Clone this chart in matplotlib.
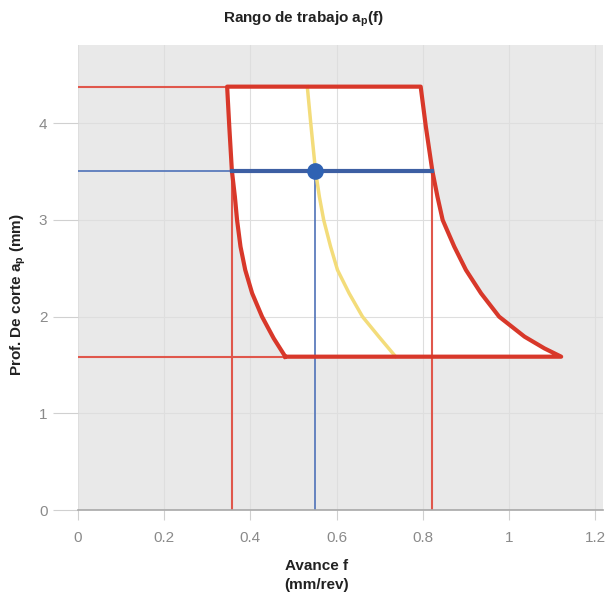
import matplotlib
matplotlib.use("Agg")
import matplotlib.pyplot as plt

# ---- data ----
ap_max = 4.38
ap_min = 1.586
ap_sel = 3.51
f_sel = 0.551
f_lo_sel = 0.357
f_hi_sel = 0.822

left_ap = [4.379, 3.965, 3.51, 3.24, 3.0, 2.724, 2.483, 2.242, 2.0, 1.776, 1.586]
left_f = [0.346, 0.351, 0.357, 0.364, 0.369, 0.377, 0.388, 0.404, 0.427, 0.454, 0.481]
right_ap = [4.379, 3.965, 3.51, 3.24, 3.0, 2.724, 2.483, 2.242, 2.0, 1.793, 1.672, 1.586]
right_f = [0.795, 0.807, 0.822, 0.834, 0.846, 0.873, 0.900, 0.935, 0.977, 1.036, 1.082, 1.121]
yel_ap = [4.379, 4.0, 3.51, 3.24, 3.0, 2.724, 2.483, 2.242, 2.0, 1.793, 1.586]
yel_f = [0.532, 0.540, 0.551, 0.560, 0.570, 0.586, 0.602, 0.629, 0.660, 0.698, 0.737]

x_ticks = [0, 0.2, 0.4, 0.6, 0.8, 1.0, 1.2]
x_tick_labels = ["0", "0.2", "0.4", "0.6", "0.8", "1", "1.2"]
y_ticks = [0, 1, 2, 3, 4]
y_tick_labels = ["0", "1", "2", "3", "4"]

plt.rcParams['font.family'] = ['Liberation Sans', 'DejaVu Sans']
plt.rcParams['mathtext.fontset'] = 'custom'
plt.rcParams['mathtext.rm'] = 'Liberation Sans'
plt.rcParams['mathtext.bf'] = 'Liberation Sans:bold'

RED = '#d8382a'
RED_THIN = '#e0574c'
BLUE = '#3d5fa3'
BLUE_THIN = '#4f72b8'
DOT = '#2f62b3'
YEL = '#f3dc7a'

fig = plt.figure(figsize=(6.07, 6.03), dpi=100)
ax = fig.add_axes([0.1285, 0.1542, 0.8649, 0.7712])
ax.set_facecolor('#e9e9e9')
ax.set_xlim(0, 1.218)
ax.set_ylim(0, 4.81)

# polygon: bottom-left, up the left curve, across the top, down the right curve, back
pf = left_f[::-1] + right_f
pa = left_ap[::-1] + right_ap
pf = pf + [pf[0]]
pa = pa + [pa[0]]
ax.fill(pf, pa, color='white', zorder=0.3, lw=0)

ax.set_axisbelow(True)
ax.grid(True, color='#dedede', lw=0.8)

# thin guide lines
ax.plot([0, left_f[0]], [ap_max, ap_max], color=RED_THIN, lw=1.5, zorder=2)
ax.plot([0, right_f[-1]], [ap_min, ap_min], color=RED_THIN, lw=1.5, zorder=2)
ax.plot([f_lo_sel, f_lo_sel], [0, ap_sel], color=RED_THIN, lw=1.5, zorder=2)
ax.plot([f_hi_sel, f_hi_sel], [0, ap_sel], color=RED_THIN, lw=1.5, zorder=2)
ax.plot([0, f_lo_sel], [ap_sel, ap_sel], color=BLUE_THIN, lw=1.2, zorder=2)
ax.plot([f_sel, f_sel], [0, ap_sel], color=BLUE_THIN, lw=1.2, zorder=2)

# yellow curve
ax.plot(yel_f, yel_ap, color=YEL, lw=2.5, zorder=3, solid_joinstyle='round')

# polygon outline
ax.plot(pf, pa, color=RED, lw=3, zorder=4, solid_joinstyle='round')

# thick blue selection line
ax.plot([f_lo_sel, f_hi_sel], [ap_sel, ap_sel], color=BLUE, lw=3, zorder=5)
ax.plot([f_sel], [ap_sel], 'o', color=DOT, ms=11, zorder=6)

for s in ['top', 'right', 'left']:
    ax.spines[s].set_visible(False)
ax.spines['bottom'].set_color('#a8a8a8')
ax.spines['bottom'].set_linewidth(1.2)

ax.set_xticks(x_ticks)
ax.set_xticklabels(x_tick_labels)
ax.set_yticks(y_ticks)
ax.set_yticklabels(y_tick_labels)
ax.tick_params(axis='x', colors='#d0d0d0', length=7, pad=8, labelsize=11, labelcolor='#8a8a8a')
ax.tick_params(axis='y', colors='#d0d0d0', length=18, pad=4, labelsize=11, labelcolor='#8a8a8a')

fig.text(0.5, 0.968, r'Rango de trabajo $\mathbf{a_p}$(f)', ha='center', va='center',
         fontsize=11, fontweight='bold', color='#222222')
fig.text(0.522, 0.045, 'Avance f\n(mm/rev)', ha='center', va='center',
         fontsize=11, fontweight='bold', color='#222222', linespacing=1.45)
fig.text(0.03, 0.512, r'Prof. De corte $\mathbf{a_p}$ (mm)', ha='center', va='center',
         rotation=90, fontsize=11, fontweight='bold', color='#222222')

fig.savefig('out.png', dpi=100)
